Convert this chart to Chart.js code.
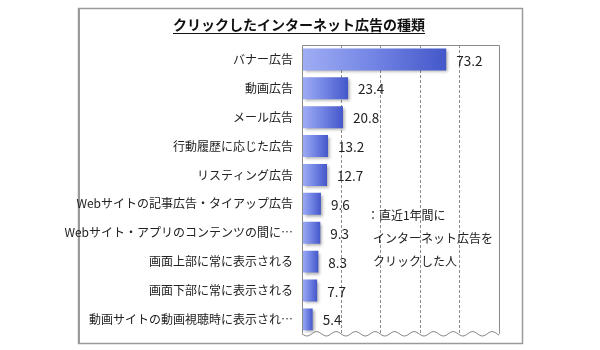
<!DOCTYPE html>
<html lang="ja">
<head>
<meta charset="utf-8">
<script src="https://cdn.jsdelivr.net/npm/chart.js@4"></script>
<style>
  html, body { margin: 0; padding: 0; background: #fff; }
  #wrap { width: 600px; height: 350px; }
</style>
</head>
<body>
<div id="wrap"><canvas id="adChart" width="600" height="350"></canvas></div>
<script>
const chartTitle = 'クリックしたインターネット広告の種類';
const categories = [
  'バナー広告',
  '動画広告',
  'メール広告',
  '行動履歴に応じた広告',
  'リスティング広告',
  'Webサイトの記事広告・タイアップ広告',
  'Webサイト・アプリのコンテンツの間に…',
  '画面上部に常に表示される',
  '画面下部に常に表示される',
  '動画サイトの動画視聴時に表示され…'
];
const values = [73.2, 23.4, 20.8, 13.2, 12.7, 9.6, 9.3, 8.3, 7.7, 5.4];
const axisTicks = [0, 20, 40, 60, 80, 100];
const noteLines = ['：直近1年間に', 'インターネット広告を', 'クリックした人'];

const FONT = '"Noto Sans CJK JP", "Noto Sans", sans-serif';

// gradient per bar, light on the left, darker on the right
function barFill(ctx) {
  const chart = ctx.chart;
  const xs = chart.scales.x;
  if (!chart.chartArea || !xs || ctx.type !== 'data') return '#6677dd';
  const x0 = xs.getPixelForValue(0);
  const x1 = xs.getPixelForValue(ctx.raw);
  const g = chart.ctx.createLinearGradient(x0, 0, x1, 0);
  g.addColorStop(0, '#a0aef4');
  g.addColorStop(0.5, '#7284e4');
  g.addColorStop(1, '#4457c9');
  return g;
}

const framePlugin = {
  id: 'frame',
  beforeDraw(chart) {
    const c = chart.ctx;
    c.save();
    c.fillStyle = '#fff';
    c.fillRect(0, 0, chart.width, chart.height);
    // outer box
    c.strokeStyle = '#9a9a9a';
    c.lineWidth = 1.5;
    c.strokeRect(78.5, 8.5, 444, 335);
    c.lineWidth = 2;
    c.beginPath();
    c.moveTo(79, 8);
    c.lineTo(79, 344);
    c.stroke();
    // title, underlined
    c.fillStyle = '#111';
    c.font = 'bold 14px ' + FONT;
    c.textAlign = 'center';
    c.textBaseline = 'middle';
    c.fillText(chartTitle, 299, 25);
    const w = c.measureText(chartTitle).width;
    c.strokeStyle = '#111';
    c.lineWidth = 1;
    c.beginPath();
    c.moveTo(299 - w / 2, 33.5);
    c.lineTo(299 + w / 2, 33.5);
    c.stroke();
    c.restore();
  },
  beforeDatasetsDraw(chart) {
    const c = chart.ctx;
    c.save();
    c.shadowColor = 'rgba(0,0,0,0.35)';
    c.shadowOffsetX = 2;
    c.shadowOffsetY = 2;
    c.shadowBlur = 3;
  },
  afterDatasetsDraw(chart) {
    const c = chart.ctx;
    c.restore();
    const a = chart.chartArea;
    c.save();
    // plot frame: left, top, right, wavy bottom
    c.strokeStyle = '#8a8a8a';
    c.lineWidth = 1;
    c.beginPath();
    c.moveTo(a.left + 0.5, a.bottom);
    c.lineTo(a.left + 0.5, a.top + 0.5);
    c.lineTo(a.right + 0.5, a.top + 0.5);
    c.lineTo(a.right + 0.5, a.bottom);
    c.stroke();
    c.beginPath();
    for (let x = a.left; x <= a.right; x += 1) {
      const y = a.bottom + 2.2 * Math.sin((x - a.left) / 19.5 * Math.PI * 2);
      if (x === a.left) c.moveTo(x, y); else c.lineTo(x, y);
    }
    c.stroke();

    // value labels
    const meta = chart.getDatasetMeta(0);
    c.fillStyle = '#222';
    c.font = '13.5px ' + FONT;
    c.textAlign = 'left';
    c.textBaseline = 'middle';
    meta.data.forEach((bar, i) => {
      c.fillText(values[i].toFixed(1), bar.x + 10, bar.y + 1);
    });

    // note text
    const xs = chart.scales.x;
    const ys = chart.scales.y;
    c.font = '12px ' + FONT;
    c.fillStyle = '#222';
    const nx = xs.getPixelForValue(36);
    const ny = (ys.getPixelForValue(5) + ys.getPixelForValue(6)) / 2 - 3;
    noteLines.forEach((t, i) => {
      c.fillText(t, i === 0 ? nx - 6 : nx, ny + i * 23);
    });
    c.restore();
  }
};

new Chart(document.getElementById('adChart'), {
  type: 'bar',
  data: {
    labels: categories,
    datasets: [{
      data: values,
      backgroundColor: barFill,
      borderWidth: 0,
      categoryPercentage: 0.76,
      barPercentage: 1
    }]
  },
  options: {
    indexAxis: 'y',
    responsive: false,
    animation: false,
    devicePixelRatio: 1,
    layout: { padding: { left: 0, right: 101, top: 45, bottom: 16 } },
    plugins: {
      legend: { display: false },
      tooltip: { enabled: false }
    },
    scales: {
      x: {
        min: axisTicks[0],
        max: axisTicks[axisTicks.length - 1],
        afterBuildTicks: (scale) => { scale.ticks = axisTicks.map(v => ({ value: v })); },
        ticks: { display: false },
        border: { display: false, dash: [3, 2] },
        grid: {
          drawTicks: false,
          color: (ctx) => (ctx.tick && ctx.tick.value > 0 && ctx.tick.value < 100) ? '#8c8c8c' : 'rgba(0,0,0,0)',
          lineWidth: 1
        }
      },
      y: {
        afterFit: (scale) => { scale.width = 302; },
        ticks: {
          color: '#222',
          padding: 9,
          autoSkip: false,
          font: { size: 12, family: FONT }
        },
        grid: { display: false, drawTicks: false },
        border: { display: false }
      }
    }
  },
  plugins: [framePlugin]
});
</script>
</body>
</html>
